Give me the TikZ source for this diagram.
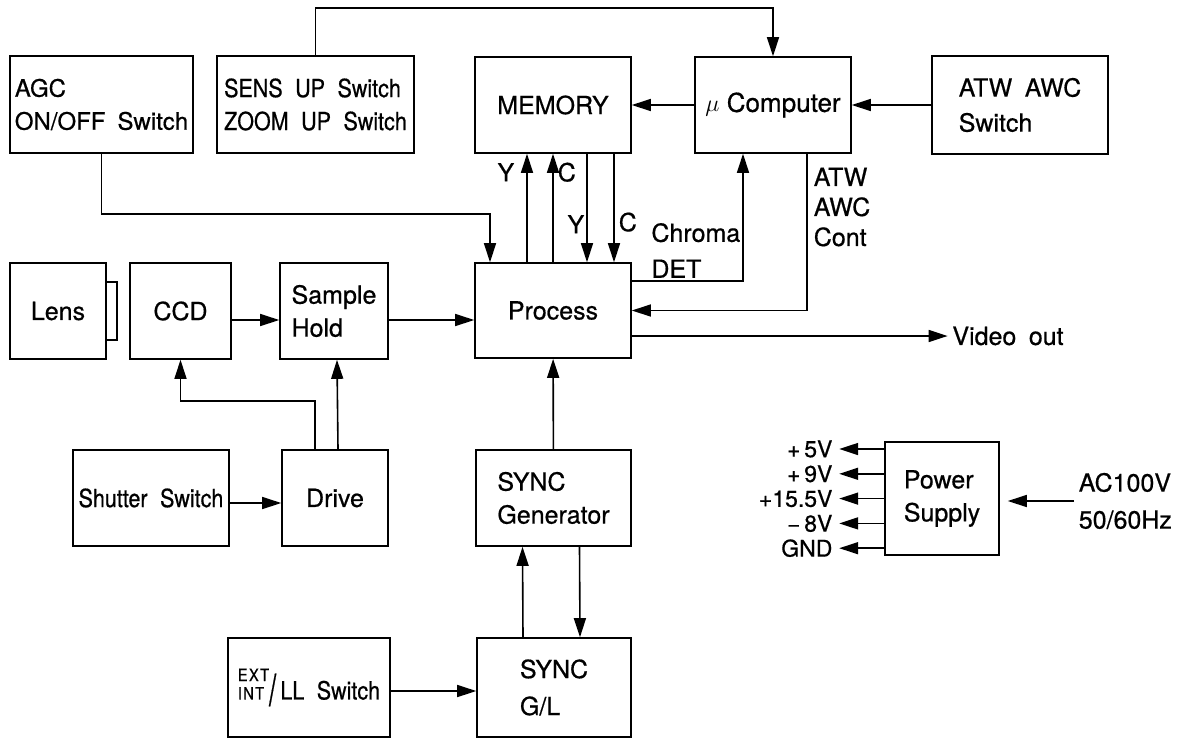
\documentclass[tikz,border=0pt]{standalone}
\usepackage{fontspec}
\setmainfont{TeX Gyre Heros}[FakeBold=0.6]
\newfontfamily\narrowfont{TeX Gyre Heros}[FakeStretch=0.86, FakeBold=0.6]
\usepackage{graphicx}
\usetikzlibrary{arrows.meta}
\newcommand{\extint}{{\fontsize{8.5}{8.5}\selectfont\addfontfeature{LetterSpace=8}\shortstack[l]{EXT\\INT}}\raisebox{-3pt}{\scalebox{1.2}[1.75]{/}}\,}

\begin{document}
\begin{tikzpicture}[x=0.5pt, y=-0.5pt, >={Triangle[length=9.5pt,width=6pt]},
    line width=0.8pt,
    every node/.style={inner sep=2pt, font=\fontsize{12.5}{16.5}\selectfont},
    blk/.style={draw, align=center},
    lblk/.style={draw, align=left},
    narrowtxt/.style={font=\narrowfont\fontsize{12.5}{16.5}\selectfont},
    smalltxt/.style={font=\fontsize{11.5}{12}\selectfont}]
  \useasboundingbox (0,0) rectangle (1195,740);

  % top row
  \node[lblk, minimum width=91.5pt, minimum height=48.5pt, font=\fontsize{12}{16.5}\selectfont] (agc) at (101.5,104.5) {AGC\\ON/OFF\enspace Switch};
  \node[lblk, minimum width=98.5pt, minimum height=48.5pt, font=\narrowfont\fontsize{12.5}{16.5}\selectfont] (sens) at (315.5,104.5) {SENS\enspace UP\enspace Switch\\ZOOM\enspace UP\enspace Switch};
  \node[blk, minimum width=78pt, minimum height=48pt] (mem) at (553,105) {MEMORY};
  \node[blk, minimum width=78pt, minimum height=48pt, font=\fontsize{13}{16.5}\selectfont] (comp) at (773,105) {$\mu$ Computer};
  \node[lblk, minimum width=88pt, minimum height=49pt, font=\fontsize{12.5}{17.5}\selectfont] (atwsw) at (1020,105) {ATW\enspace AWC\\Switch};

  % signal row
  \node[blk, minimum width=48pt, minimum height=48pt] (lens) at (58,311) {Lens};
  \draw (106,282) rectangle (117,340);
  \node[blk, minimum width=50.5pt, minimum height=48pt] (ccd) at (180.5,311) {CCD};
  \node[lblk, minimum width=54pt, minimum height=48pt] (sh) at (334,311) {Sample\\Hold};
  \node[blk, minimum width=78pt, minimum height=47.5pt] (proc) at (553,310.5) {Process};
  \node (vout) at (1008,336) {Video\enspace out};

  % lower blocks
  \node[blk, minimum width=78pt, minimum height=48pt, narrowtxt] (shut) at (151,498) {Shutter\enspace Switch};
  \node[blk, minimum width=53pt, minimum height=48pt] (drive) at (335,498) {Drive};
  \node[lblk, minimum width=77.5pt, minimum height=48pt] (syncgen) at (553.5,498) {SYNC\\Generator};
  \node[blk, minimum width=81pt, minimum height=49.5pt, narrowtxt] (extsw) at (309,687.5) {\extint LL\enspace Switch};
  \node[lblk, minimum width=77pt, minimum height=49.5pt, font=\fontsize{12.5}{18.5}\selectfont] (syncgl) at (554,687.5) {SYNC\\G/L};

  % power supply
  \node[lblk, minimum width=57pt, minimum height=56.5pt] (power) at (942,498.5) {Power\\Supply};
  \node[align=left, anchor=west, font=\fontsize{12.5}{18.5}\selectfont] (acin) at (1074,501) {AC100V\\50/60Hz};
  \foreach \lab [count=\i] in {+\,5V, +\,9V, +15.5V, \textminus\,8V, GND} {
    \node[smalltxt, anchor=east, inner sep=3pt] (pwr\i) at ([xshift=-22.5pt, yshift={37.15pt-12.4pt*\i}]power.west) {\lab};
    \draw[->] (pwr\i.east -| power.west) -- (pwr\i.east);
  }
  \draw[->] (acin.west) -- ([xshift=4pt]acin.west -| power.east);

  % connections
  \draw[->] (sens.north) |- ([yshift=24pt]comp.north) -- (comp.north);
  \draw[->] (comp) -- (mem);
  \draw[->] (atwsw) -- (comp);
  \draw[->] (agc.south) -- ++(0,60) -| ([xshift=-31.5pt]proc.north);
  \draw[->] ([xshift=-13pt]proc.north) -- node[pos=0.83, left, inner sep=6pt] {Y} ([xshift=-13pt]mem.south);
  \draw[->] (proc.north) -- node[pos=0.83, right, inner sep=2pt] {C} (mem.south);
  \draw[->] ([xshift=17pt]mem.south) -- node[pos=0.65, left, inner sep=1pt] {Y} ([xshift=17pt]proc.north);
  \draw[->] ([xshift=30.5pt]mem.south) -- node[pos=0.63, right, inner sep=2pt] {C} ([xshift=30.5pt]proc.north);
  \draw[->] ([yshift=14.75pt]proc.east) -| node[pos=0.62, left, inner sep=1pt, align=left, font=\fontsize{12.5}{18}\selectfont] {Chroma\\DET} ([xshift=-15pt]comp.south);
  \draw[->] ([xshift=17pt]comp.south) |- node[pos=0.17, right, inner sep=3pt, align=left, font=\fontsize{12.5}{15}\selectfont] {ATW\\AWC\\Cont} (proc.east);
  \draw[->] ([yshift=-12.75pt]proc.east) -- (vout.west);
  \draw[->] ([yshift=-4.5pt]ccd.east) -- ([yshift=-4.5pt]sh.west);
  \draw[->] ([yshift=-4.5pt]sh.east) -- ([yshift=-4.5pt]sh.east -| proc.west);
  \draw[->] ([yshift=-2.5pt]shut.east) -- ([yshift=-2.5pt]drive.west);
  \draw[->] ([xshift=1.5pt]drive.north) -- ([xshift=1.5pt]sh.south);
  \draw[->] ([xshift=-10pt]drive.north) -- ++(0,-48) -| (ccd.south);
  \draw[->] (syncgen) -- (proc);
  \draw[->] ([xshift=-15.5pt]syncgl.north) -- ([xshift=-15.5pt]syncgen.south);
  \draw[->] ([xshift=13pt]syncgen.south) -- ([xshift=13pt]syncgl.north);
  \draw[->] ([yshift=-1.75pt]extsw.east) -- ([yshift=-1.75pt]extsw.east -| syncgl.west);
\end{tikzpicture}
\end{document}
